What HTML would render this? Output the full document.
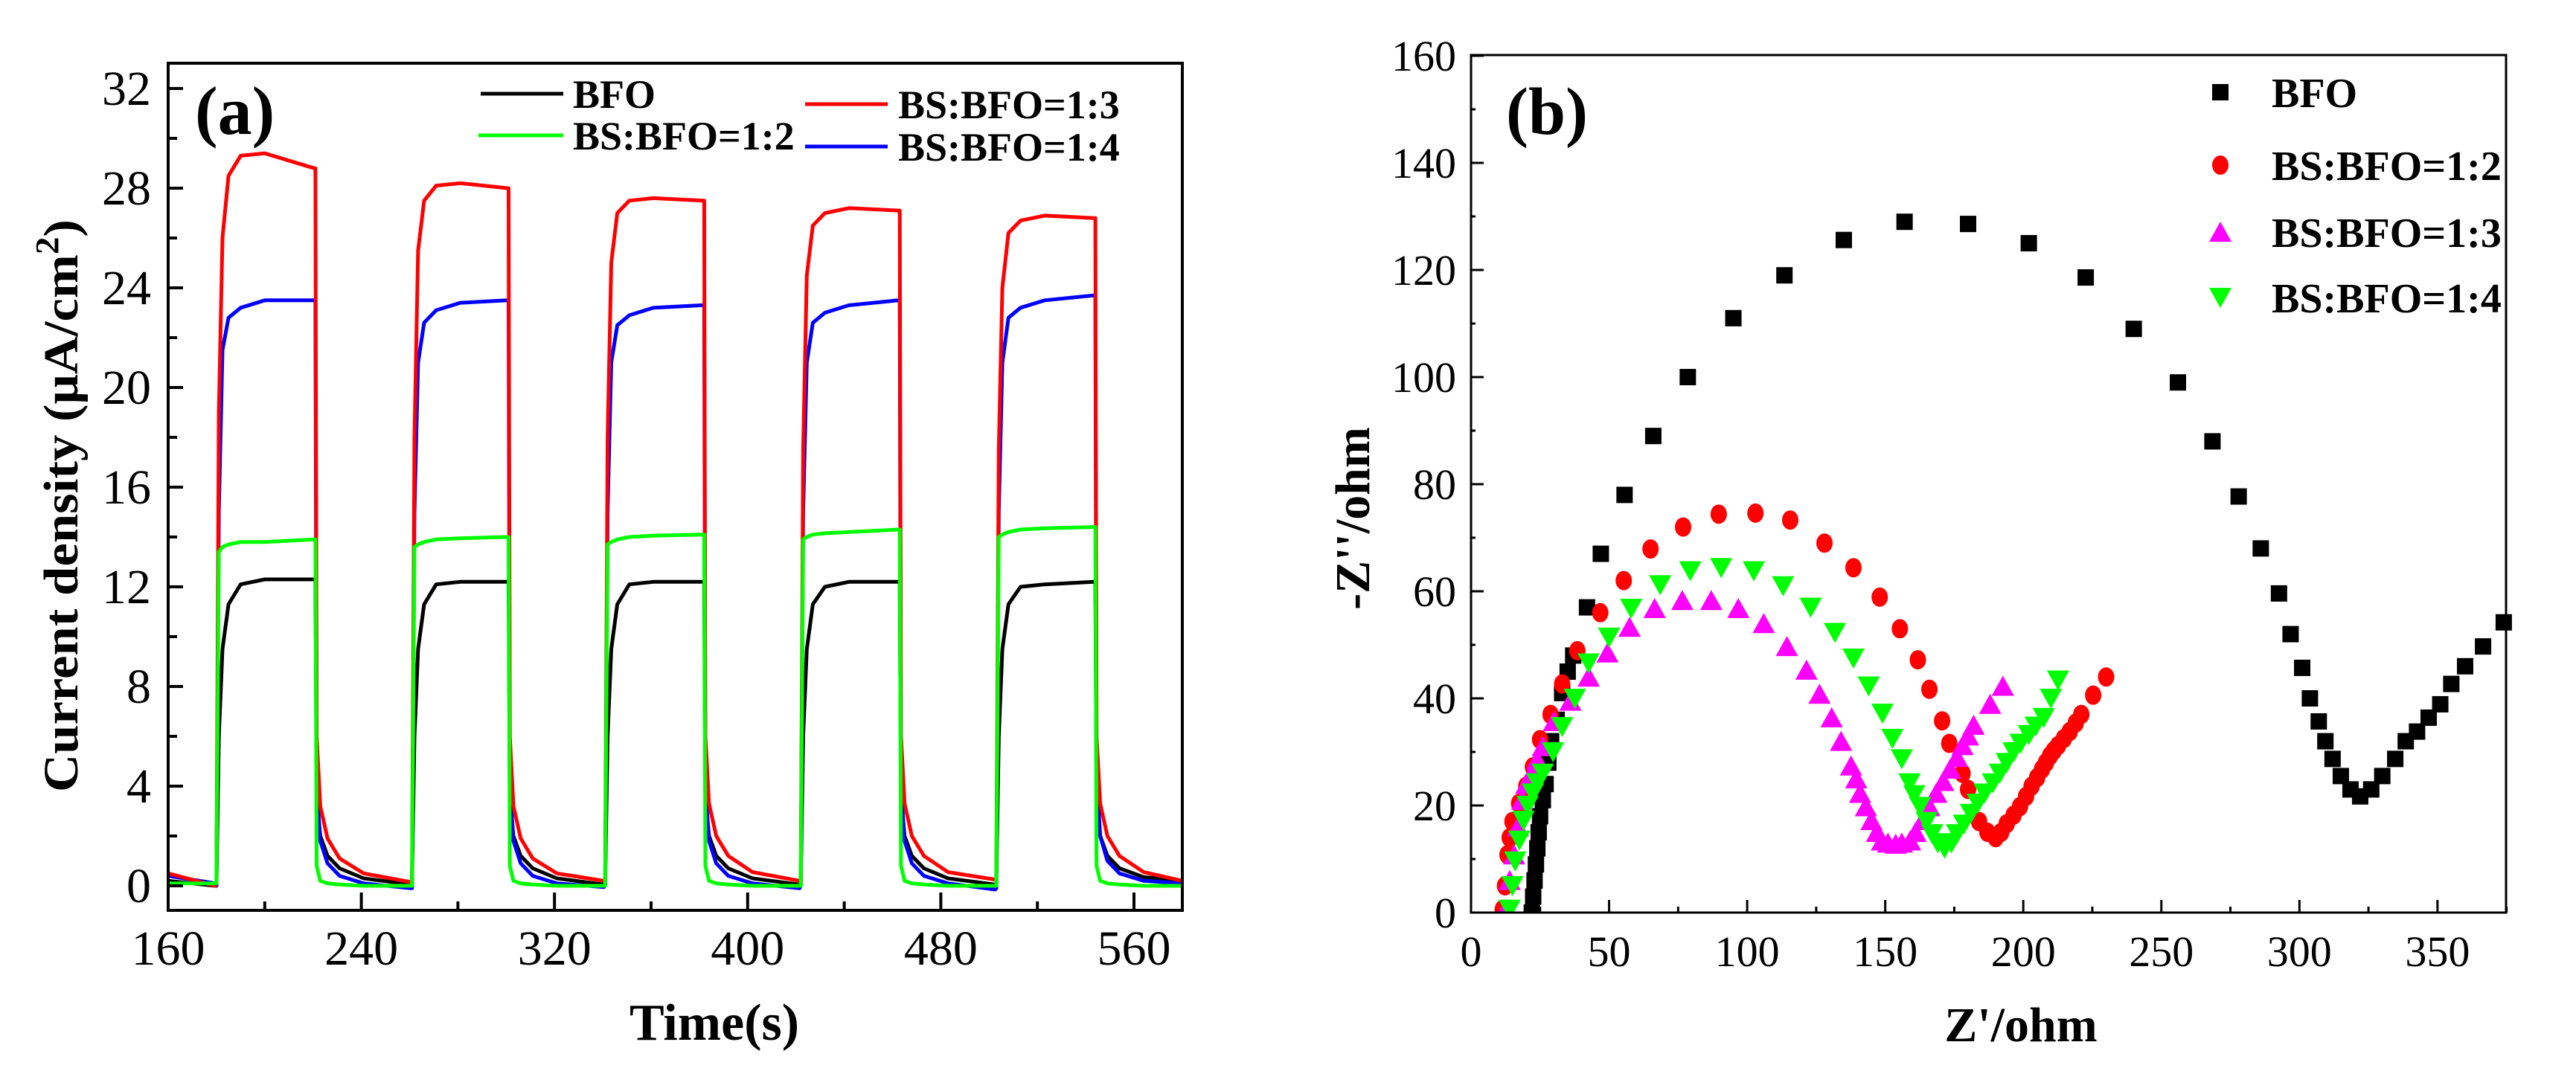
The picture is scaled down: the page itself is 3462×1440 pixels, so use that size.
<!DOCTYPE html>
<html><head><meta charset="utf-8"><style>
html,body{margin:0;padding:0;background:#fff;}
svg{display:block;}
text{font-family:"Liberation Serif",serif;fill:#000;}
</style></head><body>
<svg id="fig" width="3462" height="1440" viewBox="0 0 3462 1440" xmlns="http://www.w3.org/2000/svg">
<g id="pa"></g>
<g id="pb"></g>
</svg>
<script>
// ---------- Panel (a) data ----------
const aTimes = [160,179.5,
180,181,182.5,185,190,200,220.5, 221,221.5,223,226,231,241,260.5,
261,262,263.5,266,271,281,300.5, 301,301.5,303,306,311,321,340.5,
341,342,343.5,346,351,361,381.5, 382,382.5,384,387,392,402,421.5,
422,423,424.5,427,432,442,462.5, 463,463.5,465,468,473,483,502.5,
503,504,505.5,508,513,523,543.5, 544,544.5,546,549,554,564,580];
const aBFO = [0.2,0.0,
0.0,6,9.5,11.3,12.1,12.3,12.3, 12.3,3.5,2.0,1.2,0.7,0.3,0.05,
0.05,6,9.5,11.3,12.1,12.2,12.2, 12.2,3.5,2.0,1.2,0.7,0.3,0.05,
0.05,6,9.5,11.3,12.1,12.2,12.2, 12.2,3.5,2.0,1.2,0.7,0.3,0.05,
0.05,6,9.5,11.3,12.0,12.2,12.2, 12.2,3.5,2.0,1.2,0.7,0.3,0.05,
0.05,6,9.5,11.3,12.0,12.1,12.2, 12.2,3.5,2.0,1.2,0.7,0.35,0.2];
const aR12 = [0.1,0.1,
0.1,13.4,13.6,13.7,13.8,13.8,13.9, 13.9,0.8,0.2,0.1,0.05,0.0,0.0,
0.0,13.6,13.7,13.8,13.9,13.95,14.0, 14.0,0.8,0.2,0.1,0.05,0.0,0.0,
0.0,13.7,13.8,13.9,14.0,14.05,14.1, 14.1,0.8,0.2,0.1,0.05,0.0,0.0,
0.0,13.9,14.0,14.1,14.15,14.2,14.3, 14.3,0.8,0.2,0.1,0.05,0.0,0.0,
0.0,14.0,14.1,14.2,14.3,14.35,14.4, 14.4,0.8,0.2,0.1,0.05,0.0,0.0];
const aR13 = [0.5,0.0,
0.2,19,26,28.5,29.3,29.4,28.8, 28.8,6,3.2,1.9,1.1,0.5,0.15,
0.15,18,25.5,27.5,28.1,28.2,28.0, 28.0,6,3.2,1.9,1.1,0.5,0.2,
0.2,18,25,27,27.5,27.6,27.5, 27.5,6,3.3,2.0,1.2,0.55,0.2,
0.2,17.5,24.5,26.5,27.0,27.2,27.1, 27.1,6,3.3,2.0,1.2,0.55,0.25,
0.25,17.5,24,26.2,26.7,26.9,26.8, 26.8,6,3.3,2.0,1.2,0.55,0.2];
const aR14 = [0.4,0.1,
0.0,15,21.5,22.8,23.2,23.5,23.5, 23.5,4,1.8,0.9,0.4,0.1,-0.1,
-0.1,15,21,22.6,23.1,23.4,23.5, 23.5,4,1.8,0.9,0.4,0.1,-0.05,
0.0,15,21,22.5,22.9,23.2,23.3, 23.3,4,1.8,0.9,0.4,0.1,-0.1,
0.0,15,21,22.6,23.0,23.3,23.5, 23.5,4,1.8,0.9,0.4,0.1,-0.15,
-0.1,15,21,22.8,23.2,23.5,23.7, 23.7,4.5,2.0,1.0,0.5,0.2,0.1];
const aXTicks = [160,240,320,400,480,560];
const aYTicks = [0,4,8,12,16,20,24,28,32];

// ---------- Panel (b) data ----------
const bBFOx = [22,22.5,23,23.5,24,24.5,25,26,27,28,29,31,33,35,37,42,47,55.6,66,78.5,95,113.5,135,157,180,202,222.6,240,256,268.5,278,286,292.6,296.8,301,303.8,307,309.4,312,315,318.5,322,326,330,334.7,338.5,342.6,346.8,351,355,360,366.5,374];
const bBFOy = [0,3,6,9,12,15,18,21,24,28,32,36,41,45,48,57,67,78,89,100,111,119,125.6,129,128.6,125,118.6,109,99,88,77.7,68,59.6,52,45.7,40,35.7,32,28.7,25.5,23,21.7,23,25.5,28.7,32,33.8,36.4,38.9,42.7,46,49.7,54.2];
const bR12x = [11.5,12.3,13.2,14,15,17.4,20,22.4,25,28.8,33,38.5,46.8,55.3,65,76.8,89.7,103,115.6,128,138.5,148,155.3,161.8,166,170.6,173.2,178,180,184,187,190,192,194,196.5,198.8,201,203,205,206.8,208.2,209.7,211,212.6,214.7,216.8,219,221,225.3,230];
const bR12y = [0.6,5,10.8,14,17,20.4,23.6,27.2,32.3,37,42.7,48.9,56,62,67.9,72,74.4,74.6,73.3,69,64.4,58.9,53,47.2,41.7,35.8,31.6,26,23,17,15,14,15,16.6,18.2,19.8,21.7,23.6,25.2,26.8,28,29.3,30.2,31.2,32.5,33.8,35.4,37,40.6,44];
const bR13x = [12.6,14,15.6,17,18.5,20,22,24,26,30,36,42.6,49.4,57.4,66.5,76.5,87,96.8,106,114.4,121.5,126.2,130.6,134,137.6,139.5,140.9,143,145,147,148.8,151,153.8,156,159,161,163.5,166,168.5,171,173.5,176,178,180,182,188,192.6];
const bR13y = [0.6,6,10.8,16,21,24,26,28.5,31,35.7,39.5,44,48.5,53.3,56.8,58.3,58.3,56.8,54,49.7,45.3,40.8,36.4,32,27.4,25,22.3,19.8,17.2,15,13.4,13,12.8,13,13.4,15,17.2,19.8,22.3,24.5,26.8,29,31.2,33,35,38.9,42.3];
const bR14x = [14,15,16,17.5,19,20.5,22.4,24,26,29.7,33,37.6,42.6,50,58,68.5,79.4,90.6,102.4,113,123,131.8,138.5,144,149,152.6,156,158.8,160.5,162.6,165,167,169,171.5,174,176,178.5,181,183.5,186,189,191.5,194,196.5,199,202,204.5,207.4,210,212.6];
const bR14y = [0.6,5,9.6,13.5,17.2,20,22.3,24.2,26,30,34.7,40,46.6,51.4,56.8,61.2,63.8,64.4,63.8,61,57,52.3,47.5,42.3,37.2,32.5,28.7,24.2,22,19.8,17,14.7,13,12,13,14.7,16.5,18.5,20.4,22.3,24.2,26,28,30,31.6,33.2,34.8,36.4,40,43.4];
const bXTicks = [0,50,100,150,200,250,300,350];
const bYTicks = [0,20,40,60,80,100,120,140,160];

const NS = "http://www.w3.org/2000/svg";
function mk(parent, tag, attrs, txt) {
  const e = document.createElementNS(NS, tag);
  for (const k in attrs) e.setAttribute(k, attrs[k]);
  if (txt !== undefined) e.textContent = txt;
  parent.appendChild(e);
  return e;
}

// ---------- Panel (a) ----------
(function(){
  const g = document.getElementById('pa');
  const L = 226, R = 1589, T = 85, B = 1224;
  const xs = t => L + (t - 160) * 3.245;
  const ys = v => 1191 - v * 33.5;
  const clip = mk(g, 'clipPath', {id: 'clipA'});
  mk(clip, 'rect', {x: L, y: T, width: R - L, height: B - T});
  const series = [
    {vals: aBFO, color: '#000000', name: 'series-bfo-line'},
    {vals: aR14, color: '#0000ff', name: 'series-bs-bfo-1-4-line'},
    {vals: aR13, color: '#ff0000', name: 'series-bs-bfo-1-3-line'},
    {vals: aR12, color: '#00ff00', name: 'series-bs-bfo-1-2-line'}
  ];
  series.forEach(s => {
    const d = aTimes.map((t, i) => (i ? 'L' : 'M') + xs(t).toFixed(1) + ',' + ys(s.vals[i]).toFixed(1)).join(' ');
    const p = mk(g, 'path', {d: d, fill: 'none', stroke: s.color, 'stroke-width': 5, 'stroke-linejoin': 'round', 'clip-path': 'url(#clipA)'});
    
    
  });
  // frame
  const fr = mk(g, 'rect', {x: L, y: T, width: R - L, height: B - T, fill: 'none', stroke: '#000', 'stroke-width': 4});
  
  
  // y ticks
  for (let v = 0; v <= 32; v += 2) {
    const major = v % 4 === 0;
    mk(g, 'line', {x1: L, x2: L + (major ? 20 : 12), y1: ys(v), y2: ys(v), stroke: '#000', 'stroke-width': 4});
  }
  aYTicks.forEach(v => {
    const t = mk(g, 'text', {x: 203, y: ys(v) + 22, 'text-anchor': 'end', 'font-size': 66}, String(v));
    
    
  });
  for (let v = 160; v <= 580; v += 40) {
    const major = (v - 160) % 80 === 0;
    mk(g, 'line', {x1: xs(v), x2: xs(v), y1: B, y2: B - (major ? 24 : 12), stroke: '#000', 'stroke-width': 4});
  }
  aXTicks.forEach(v => {
    const t = mk(g, 'text', {x: xs(v), y: 1297, 'text-anchor': 'middle', 'font-size': 66}, String(v));
    
    
  });
  const xt = mk(g, 'text', {x: 960, y: 1398, 'text-anchor': 'middle', 'font-size': 70, 'font-weight': 'bold'}, 'Time(s)');
  
  
  const yt = mk(g, 'text', {x: 0, y: 0, 'text-anchor': 'middle', 'font-size': 66, 'font-weight': 'bold', transform: 'translate(104,680) rotate(-90)', textLength: 770, lengthAdjust: 'spacingAndGlyphs'});
  
  
  mk(yt, 'tspan', {}, 'Current density (μA/cm');
  mk(yt, 'tspan', {dy: -26, 'font-size': 44}, '2');
  mk(yt, 'tspan', {dy: 26}, ')');
  const pl = mk(g, 'text', {x: 262, y: 180, 'font-size': 92, 'font-weight': 'bold'}, '(a)');
  
  
  // legend
  const leg = [
    {x1: 646, x2: 757, y: 126, tx: 770, color: '#000', label: 'BFO'},
    {x1: 643, x2: 757, y: 182, tx: 770, color: '#00ff00', label: 'BS:BFO=1:2'},
    {x1: 1082, x2: 1193, y: 140, tx: 1207, color: '#ff0000', label: 'BS:BFO=1:3'},
    {x1: 1082, x2: 1193, y: 197, tx: 1207, color: '#0000ff', label: 'BS:BFO=1:4'}
  ];
  leg.forEach(l => {
    const ge = mk(g, 'g', {});
    
    
    mk(ge, 'line', {x1: l.x1, x2: l.x2, y1: l.y, y2: l.y, stroke: l.color, 'stroke-width': 5});
    mk(ge, 'text', {x: l.tx, y: l.y + 19, 'font-size': 54, 'font-weight': 'bold'}, l.label);
  });
})();

// ---------- Panel (b) ----------
(function(){
  const g = document.getElementById('pb');
  const L = 1977, R = 3368, T = 74, B = 1227;
  const xs = v => L + v * 3.711;
  const ys = v => B - v * 7.2;
  const clip = mk(g, 'clipPath', {id: 'clipB'});
  mk(clip, 'rect', {x: L, y: T, width: R - L + 14, height: B - T});
  function square(gg, x, y, c) { mk(gg, 'rect', {x: x - 11, y: y - 11, width: 22, height: 22, fill: c}); }
  function circ(gg, x, y, c) { mk(gg, 'ellipse', {cx: x, cy: y, rx: 11, ry: 13, fill: c}); }
  function tri(gg, x, y, c) { mk(gg, 'polygon', {points: `${x},${y-14} ${x+15},${y+13} ${x-15},${y+13}`, fill: c}); }
  function itri(gg, x, y, c) { mk(gg, 'polygon', {points: `${x-15},${y-13} ${x+15},${y-13} ${x},${y+14}`, fill: c}); }
  const series = [
    {xv: bBFOx, yv: bBFOy, c: '#000000', f: square, name: 'series-bfo-points'},
    {xv: bR12x, yv: bR12y, c: '#ff0000', f: circ, name: 'series-bs-bfo-1-2-points'},
    {xv: bR13x, yv: bR13y, c: '#ff00ff', f: tri, name: 'series-bs-bfo-1-3-points'},
    {xv: bR14x, yv: bR14y, c: '#00ff00', f: itri, name: 'series-bs-bfo-1-4-points'}
  ];
  series.forEach(s => {
    const gg = mk(g, 'g', {'clip-path': 'url(#clipB)'});
    
    
    s.xv.forEach((x, i) => s.f(gg, xs(x), ys(s.yv[i]), s.c));
  });
  const fr = mk(g, 'rect', {x: L, y: T, width: R - L, height: B - T, fill: 'none', stroke: '#000', 'stroke-width': 3});
  
  
  for (let v = 0; v <= 160; v += 10) {
    const major = v % 20 === 0;
    mk(g, 'line', {x1: L, x2: L + (major ? 17 : 6), y1: ys(v), y2: ys(v), stroke: '#000', 'stroke-width': 3});
  }
  bYTicks.forEach(v => {
    const t = mk(g, 'text', {x: 1957, y: ys(v) + 20, 'text-anchor': 'end', 'font-size': 58}, String(v));
    
    
  });
  for (let v = 0; v <= 375; v += 25) {
    const major = v % 50 === 0;
    mk(g, 'line', {x1: xs(v), x2: xs(v), y1: B, y2: B - (major ? 17 : 8), stroke: '#000', 'stroke-width': 3});
  }
  bXTicks.forEach(v => {
    const t = mk(g, 'text', {x: xs(v), y: 1299, 'text-anchor': 'middle', 'font-size': 58}, String(v));
    
    
  });
  const xt = mk(g, 'text', {x: 2716, y: 1400, 'text-anchor': 'middle', 'font-size': 66, 'font-weight': 'bold'}, "Z'/ohm");
  
  
  const yt = mk(g, 'text', {x: 0, y: 0, 'text-anchor': 'middle', 'font-size': 66, 'font-weight': 'bold', transform: 'translate(1840,697) rotate(-90)'}, "-Z''/ohm");
  
  
  const pl = mk(g, 'text', {x: 2024, y: 180, 'font-size': 90, 'font-weight': 'bold'}, '(b)');
  
  
  const leg = [
    {y: 124, f: square, c: '#000000', label: 'BFO'},
    {y: 222, f: circ, c: '#ff0000', label: 'BS:BFO=1:2'},
    {y: 312, f: tri, c: '#ff00ff', label: 'BS:BFO=1:3'},
    {y: 400, f: itri, c: '#00ff00', label: 'BS:BFO=1:4'}
  ];
  leg.forEach(l => {
    const ge = mk(g, 'g', {});
    
    
    l.f(ge, 2984, l.y, l.c);
    mk(ge, 'text', {x: 3053, y: l.y + 20, 'font-size': 56, 'font-weight': 'bold'}, l.label);
  });
})();
</script>
</body></html>
